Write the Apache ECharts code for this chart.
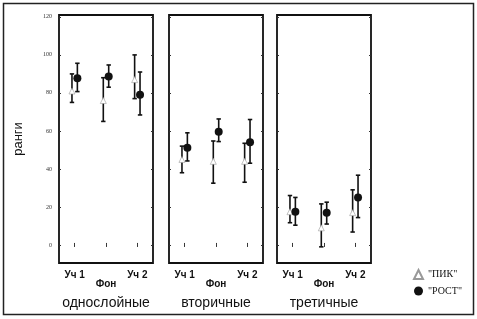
<!DOCTYPE html>
<html>
<head>
<meta charset="utf-8">
<script src="https://cdn.jsdelivr.net/npm/echarts@6/dist/echarts.min.js"></script>
<style>
  html, body { margin: 0; padding: 0; background: #fff; }
  #main { width: 477px; height: 319px; }
</style>
</head>
<body>
<div id="main"></div>
<script>
// categories on every panel and the three panel titles
const cats = ['Уч 1', 'Фон', 'Уч 2'];
const groups = ['однослойные', 'вторичные', 'третичные'];
const yTicks = [0, 20, 40, 60, 80, 100, 120];

// "ПИК" (triangles): mean and interval ends, one row per panel
const pikMean = [[81, 76, 87], [45, 44, 44], [17.5, 9, 17]];
const pikLow  = [[75, 65, 77], [38, 32.5, 33], [11.7, -1, 6.8]];
const pikHigh = [[90, 88, 100], [52, 54.7, 53.5], [26, 21.6, 29]];

// "РОСТ" (filled circles)
const rostMean = [[87.7, 88.6, 79], [51.2, 59.6, 54], [17.5, 17, 25]];
const rostLow  = [[80.7, 83, 68.4], [44.2, 54.4, 43], [10.4, 11, 14.4]];
const rostHigh = [[95.6, 94.7, 91], [59, 66.3, 66], [25, 22.5, 36.7]];

const gridLefts = [59, 169, 277];
const gridWidth = 94;
const font = '"Liberation Sans", Arial, sans-serif';

let grids = [], xAxes = [], yAxes = [], series = [];

function errBars(lo, hi, gi, dx) {
  return {
    type: 'custom',
    xAxisIndex: gi * 2,
    yAxisIndex: gi * 2,
    z: 2,
    silent: true,
    data: lo.map((v, i) => [i, v, hi[i]]),
    encode: { x: 0, y: [1, 2] },
    renderItem: function (params, api) {
      const a = api.coord([api.value(0), api.value(1)]);
      const b = api.coord([api.value(0), api.value(2)]);
      const x = a[0] + dx;
      const c = 2.2;
      const st = { stroke: '#111', lineWidth: 1.6 };
      return {
        type: 'group',
        children: [
          { type: 'line', shape: { x1: x, y1: a[1], x2: x, y2: b[1] }, style: st },
          { type: 'line', shape: { x1: x - c, y1: a[1], x2: x + c, y2: a[1] }, style: st },
          { type: 'line', shape: { x1: x - c, y1: b[1], x2: x + c, y2: b[1] }, style: st }
        ]
      };
    }
  };
}

groups.forEach((g, gi) => {
  grids.push({
    left: gridLefts[gi], top: 15, width: gridWidth, height: 248,
    show: true, borderColor: '#111', borderWidth: 1.8, backgroundColor: 'transparent'
  });
  // bottom axis with labels
  xAxes.push({
    type: 'category', gridIndex: gi, data: cats, boundaryGap: true,
    axisLine: { show: false },
    axisTick: { show: true, inside: true, length: 2, alignWithLabel: true, lineStyle: { color: '#333' } },
    axisLabel: {
      margin: 8, fontSize: 10, fontWeight: 'bold', color: '#111', fontFamily: font,
      lineHeight: 9,
      formatter: (v, i) => i === 1 ? '\n' + v : v
    },
    name: g, nameLocation: 'middle', nameGap: 33,
    nameTextStyle: { fontSize: 14, color: '#111', fontFamily: font }
  });
  // top edge ticks
  xAxes.push({
    type: 'category', gridIndex: gi, data: cats, boundaryGap: true, position: 'top',
    axisLine: { show: false },
    axisTick: { show: true, inside: true, length: 2, alignWithLabel: true, lineStyle: { color: '#333' } },
    axisLabel: { show: false }
  });
  yAxes.push({
    type: 'value', gridIndex: gi, min: -9.5, max: 121,
    axisLine: { show: false }, splitLine: { show: false },
    axisTick: { show: true, inside: true, length: 2, customValues: yTicks, lineStyle: { color: '#333' } },
    axisLabel: {
      show: gi === 0, customValues: yTicks, margin: 7,
      fontSize: 6, color: '#333', fontFamily: '"Liberation Serif", serif'
    },
    name: gi === 0 ? 'ранги' : '', nameLocation: 'middle', nameGap: 34, nameRotate: 90,
    nameTextStyle: { fontSize: 13, color: '#111', fontFamily: font }
  });
  yAxes.push({
    type: 'value', gridIndex: gi, min: -9.5, max: 121, position: 'right',
    axisLine: { show: false }, splitLine: { show: false },
    axisTick: { show: true, inside: true, length: 2, customValues: yTicks, lineStyle: { color: '#333' } },
    axisLabel: { show: false }
  });

  series.push(errBars(pikLow[gi], pikHigh[gi], gi, -2.7));
  series.push(errBars(rostLow[gi], rostHigh[gi], gi, 2.7));
  series.push({
    name: 'ПИК', type: 'scatter', xAxisIndex: gi * 2, yAxisIndex: gi * 2, z: 3,
    symbol: 'triangle', symbolSize: 6, symbolOffset: [-2.7, 0],
    itemStyle: { color: '#fff', borderColor: '#999', borderWidth: 0.6, opacity: 1 },
    data: pikMean[gi].map((v, i) => [i, v])
  });
  series.push({
    name: 'РОСТ', type: 'scatter', xAxisIndex: gi * 2, yAxisIndex: gi * 2, z: 4,
    symbol: 'circle', symbolSize: 8, symbolOffset: [2.7, 0],
    itemStyle: { color: '#111', opacity: 1 },
    data: rostMean[gi].map((v, i) => [i, v])
  });
});

const chart = echarts.init(document.getElementById('main'));
chart.setOption({
  animation: false,
  backgroundColor: '#fff',
  grid: grids,
  xAxis: xAxes,
  yAxis: yAxes,
  series: series,
  legend: {
    data: ['ПИК', 'РОСТ'],
    orient: 'vertical', left: 408, top: 264,
    itemWidth: 9, itemHeight: 9, itemGap: 6,
    formatter: n => '"' + n + '"',
    textStyle: { fontSize: 10, color: '#111', fontFamily: '"Liberation Serif", serif' }
  },
  graphic: [{
    type: 'rect', silent: true,
    shape: { x: 3.5, y: 3.5, width: 470, height: 311 },
    style: { fill: 'none', stroke: '#222', lineWidth: 1.5 }
  }]
});
</script>
</body>
</html>
